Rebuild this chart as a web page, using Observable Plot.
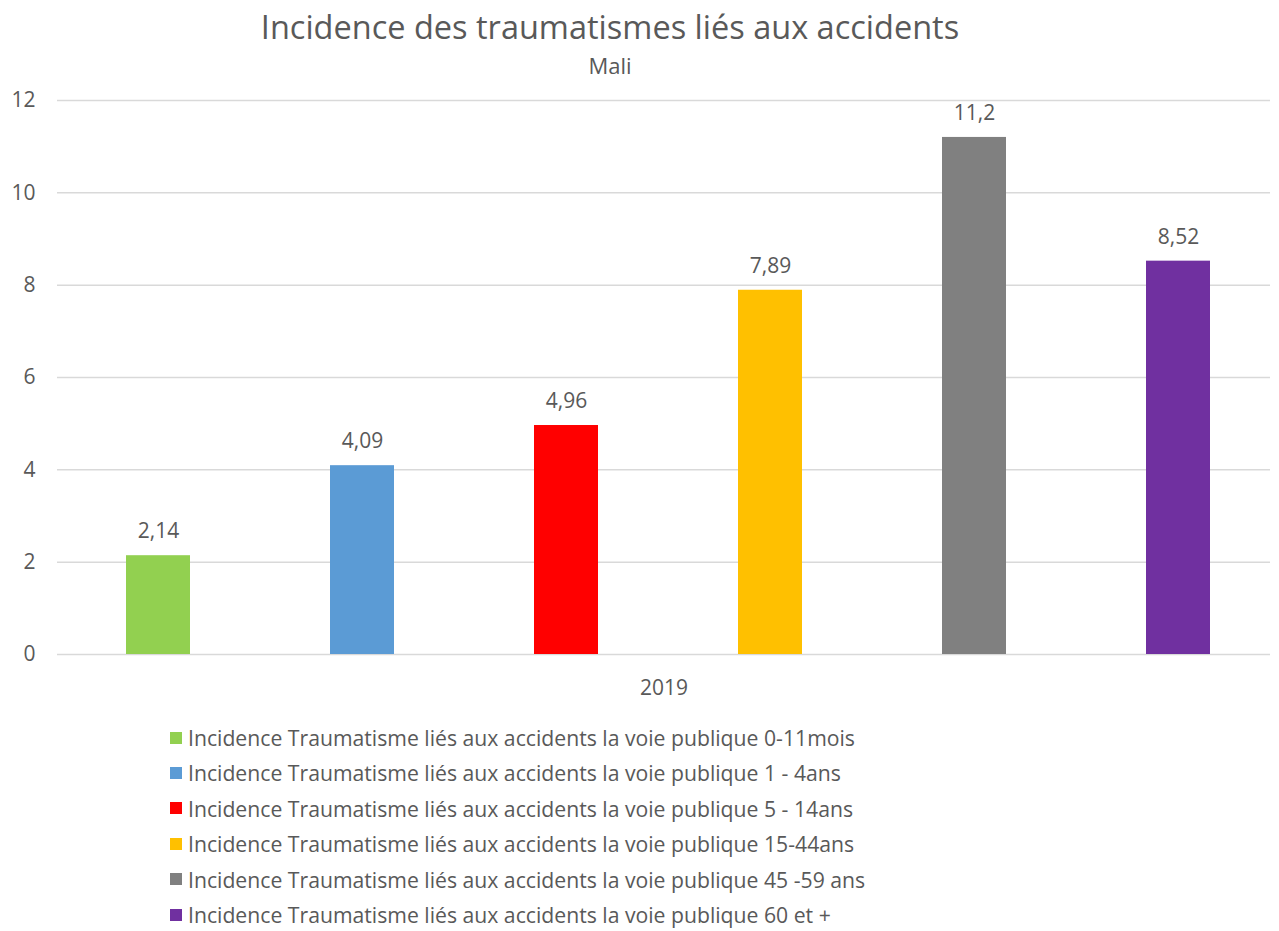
<!DOCTYPE html>
<html>
<head>
<meta charset="utf-8">
<script src="https://cdn.jsdelivr.net/npm/d3@7"></script>
<script src="https://cdn.jsdelivr.net/npm/@observablehq/plot@0.6"></script>
<style>
  body { margin: 0; background: #fff; font-family: "Open Sans", sans-serif; color: #595959; }
  #wrap { width: 1279px; height: 931px; position: relative; overflow: hidden; }
  #title { position: absolute; top: 4px; left: 0; width: 1220px; text-align: center; font-size: 32.5px; color: #595959; }
  #subtitle { position: absolute; top: 50px; left: 0; width: 1220px; text-align: center; font-size: 22px; color: #595959; }
  #chart { position: absolute; top: 85px; left: 0; }
  #legend { position: absolute; top: 720px; left: 170px; font-size: 21.2px; }
  .row { height: 35.4px; line-height: 35.4px; display: flex; align-items: center; }
  .sw { width: 12px; height: 12px; margin-right: 6px; }
</style>
</head>
<body>
<div id="wrap">
  <div id="title">Incidence des traumatismes liés aux accidents</div>
  <div id="subtitle">Mali</div>
  <div id="chart"></div>
  <div id="legend"></div>
</div>
<script>
const categories = [
  "Incidence Traumatisme liés aux accidents la voie publique 0-11mois",
  "Incidence Traumatisme liés aux accidents la voie publique 1 - 4ans",
  "Incidence Traumatisme liés aux accidents la voie publique 5 - 14ans",
  "Incidence Traumatisme liés aux accidents la voie publique 15-44ans",
  "Incidence Traumatisme liés aux accidents la voie publique 45 -59 ans",
  "Incidence Traumatisme liés aux accidents la voie publique 60 et +"
];
const values = [2.14, 4.09, 4.96, 7.89, 11.2, 8.52];
const valueLabels = ["2,14", "4,09", "4,96", "7,89", "11,2", "8,52"];
const colors = ["#92D050", "#5B9BD5", "#FF0000", "#FFC000", "#808080", "#7030A0"];
const groupLabel = ["2019"];
const yTicks = [0, 2, 4, 6, 8, 10, 12];

const data = categories.map((c, i) => ({cat: c, value: values[i], label: valueLabels[i]}));

const chart = Plot.plot({
  width: 1279,
  height: 629,
  marginLeft: 57,
  marginRight: 9,
  marginTop: 15,
  marginBottom: 60,
  style: {fontFamily: "'Open Sans', sans-serif", fontSize: "21px", color: "#595959", background: "#fff"},
  x: {domain: categories, range: [57, 1279], paddingInner: 0.687, paddingOuter: 0.333, axis: null},
  y: {domain: [0, 12], ticks: yTicks},
  color: {domain: categories, range: colors},
  marks: [
    Plot.gridY(yTicks, {stroke: "#d9d9d9", strokeOpacity: 1, strokeWidth: 1.5}),
    Plot.axisY({ticks: yTicks, tickSize: 0, tickPadding: 22, label: null, fontSize: 21, fill: "#595959"}),
    Plot.barY(data, {x: "cat", y: "value", fill: "cat"}),
    Plot.text(data, {x: "cat", y: "value", text: "label", dy: -24, fill: "#595959", fontSize: 21}),
    Plot.text(groupLabel, {frameAnchor: "bottom", dy: 40, text: d => d, fill: "#595959", fontSize: 21})
  ]
});
document.getElementById("chart").appendChild(chart);

const legend = document.getElementById("legend");
categories.forEach((c, i) => {
  const row = document.createElement("div");
  row.className = "row";
  const sw = document.createElement("div");
  sw.className = "sw";
  sw.style.background = colors[i];
  const t = document.createElement("span");
  t.textContent = c;
  row.appendChild(sw);
  row.appendChild(t);
  legend.appendChild(row);
});
</script>
</body>
</html>
